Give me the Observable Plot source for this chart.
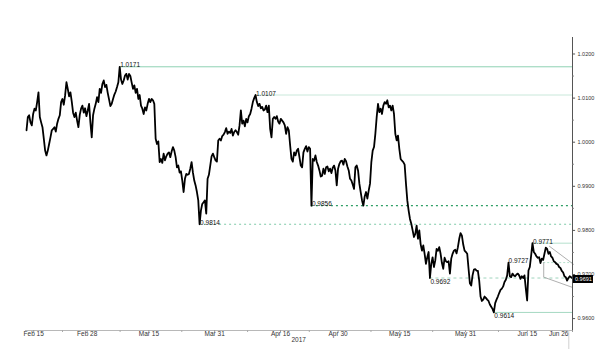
<!DOCTYPE html>
<html><head><meta charset="utf-8">
<script src="https://cdn.jsdelivr.net/npm/d3@7"></script>
<script src="https://cdn.jsdelivr.net/npm/@observablehq/plot@0.6"></script>
<style>body{margin:0;background:#fff}</style>
</head><body><div id="chart"></div>
<script>
// price series, sampled every ~7.8 hours from Feb 13 2017
const priceValues = [
1.0027,1.0057,1.0061,1.0045,1.0038,1.0064,1.0076,1.0072,1.0091,1.0113,
1.0057,1.0045,1.0034,1.0008,0.9981,0.9970,0.9981,0.9996,1.0011,1.0027,
1.0030,1.0034,1.0024,1.0042,1.0053,1.0061,1.0091,1.0098,1.0085,1.0106,
1.0136,1.0121,1.0104,1.0113,1.0092,1.0067,1.0057,1.0067,1.0049,1.0034,
1.0062,1.0076,1.0083,1.0067,1.0077,1.0059,1.0072,1.0087,1.0045,1.0011,
1.0061,1.0076,1.0087,1.0102,1.0091,1.0121,1.0112,1.0132,1.0140,1.0125,
1.0130,1.0112,1.0097,1.0082,1.0087,1.0098,1.0108,1.0115,1.0125,1.0136,
1.0171,1.0142,1.0132,1.0140,1.0151,1.0155,1.0142,1.0155,1.0150,1.0135,
1.0121,1.0129,1.0112,1.0121,1.0098,1.0107,1.0083,1.0076,1.0064,1.0079,
1.0072,1.0087,1.0098,1.0091,1.0098,1.0095,1.0087,1.0008,0.9996,1.0002,
0.9955,
0.9962,0.9953,0.9974,0.9959,0.9968,0.9974,0.9977,0.9966,0.9979,0.9989,
0.9981,0.9966,0.9943,0.9947,0.9931,0.9934,0.9913,0.9887,0.9917,0.9928,
0.9926,0.9928,0.9940,0.9955,0.9931,0.9913,0.9902,0.9887,0.9868,0.9814,
0.9845,0.9860,0.9864,0.9868,0.9838,0.9917,0.9926,0.9947,0.9968,0.9974,
0.9966,0.9959,0.9956,1.0004,1.0008,1.0004,1.0014,1.0017,1.0023,1.0032,
1.0019,1.0024,1.0021,1.0030,1.0015,1.0023,1.0027,1.0023,1.0017,1.0038,
1.0072,1.0042,1.0049,1.0036,1.0053,1.0045,1.0059,1.0064,1.0076,1.0091,
1.0100,1.0107,1.0091,1.0082,1.0087,1.0077,1.0080,1.0072,1.0074,1.0083,
1.0068,1.0083,1.0030,1.0011,1.0053,1.0057,1.0053,1.0059,1.0047,1.0042,
1.0053,1.0049,1.0045,1.0038,1.0019,1.0034,1.0027,0.9993,0.9962,0.9956,
0.9977,0.9970,0.9981,0.9985,0.9966,0.9947,0.9943,0.9977,0.9985,0.9991,
0.9979,0.9989,
0.9985,0.9856,0.9962,0.9958,0.9970,0.9955,0.9947,0.9936,0.9922,0.9924,
0.9940,0.9928,0.9943,0.9945,0.9934,0.9940,0.9930,0.9942,0.9947,0.9936,
0.9902,0.9940,0.9951,0.9957,0.9958,0.9949,0.9962,0.9957,0.9945,0.9936,
0.9917,0.9913,0.9904,0.9894,0.9943,0.9947,0.9936,0.9906,0.9887,0.9868,
0.9856,0.9877,0.9887,0.9872,0.9890,0.9906,0.9955,0.9981,0.9989,1.0019,
1.0057,1.0087,1.0068,1.0076,1.0064,1.0083,1.0091,1.0087,1.0095,1.0079,
1.0083,1.0072,1.0083,1.0064,1.0019,1.0004,1.0015,0.9985,0.9962,0.9958,
0.9955,0.9949,0.9906,0.9868,0.9845,0.9826,0.9815,0.9800,0.9785,0.9792,
0.9811,0.9781,0.9800,0.9769,0.9754,0.9766,0.9747,0.9724,0.9739,0.9751,
0.9692,0.9724,0.9739,0.9717,0.9732,0.9758,0.9754,
0.9762,0.9747,0.9726,0.9713,0.9738,0.9730,0.9728,0.9730,0.9702,0.9736,
0.9747,0.9754,0.9756,0.9748,0.9762,0.9781,0.9794,0.9788,0.9768,0.9754,
0.9751,0.9747,0.9713,0.9680,0.9675,0.9698,0.9711,0.9712,0.9709,0.9708,
0.9686,0.9650,0.9640,0.9643,0.9650,0.9647,0.9643,0.9640,0.9632,0.9627,
0.9622,0.9614,0.9635,0.9643,0.9650,0.9658,0.9665,0.9668,0.9673,0.9683,
0.9688,0.9698,0.9727,0.9696,0.9694,0.9702,0.9698,0.9696,0.9700,0.9702,
0.9698,0.9690,0.9696,0.9692,0.9698,0.9668,0.9641,0.9709,0.9717,0.9743,
0.9771,0.9751,0.9747,0.9741,0.9738,0.9739,0.9726,0.9736,0.9733,0.9747,
0.9761,0.9758,0.9747,0.9751,0.9741,0.9738,0.9730,0.9728,0.9724,0.9723,
0.9717,0.9715,0.9708,0.9705,0.9696,0.9694,0.9686,0.9692,0.9696,0.9694,
0.9691
];
const seriesStart = Date.UTC(2017, 1, 13, 5, 48);
const stepHours = 7.77;

// annotated levels
const levelValues = [1.0171, 1.0107, 0.9856, 0.9814, 0.9771, 0.9727, 0.9692, 0.9614];
const levelStartDates = ["2017-03-07T21:40Z","2017-04-09T22:10Z","2017-04-23T12:30Z","2017-03-27T08:00Z","2017-06-16T06:20Z","2017-06-19T00:00Z","2017-05-22T08:00Z","2017-06-06T21:00Z"];
const levelLabelDates = ["2017-03-07T21:40Z","2017-04-09T22:10Z","2017-04-23T12:30Z","2017-03-27T08:00Z","2017-06-16T06:20Z","2017-06-10T08:00Z","2017-05-22T08:00Z","2017-06-06T21:00Z"];
const levelBelow = [false, false, false, false, false, false, true, true];

// wedge drawing
const wedgeUpper = [["2017-06-20T09:30Z", 0.9764], ["2017-06-26T06:00Z", 0.9723]];
const wedgeLower = [["2017-06-19T00:00Z", 0.9727], ["2017-06-19T00:00Z", 0.9694], ["2017-06-25T22:00Z", 0.9671]];

// axes
const xTickDates = ["2017-02-15","2017-02-28","2017-03-15","2017-03-31","2017-04-16","2017-04-30","2017-05-15","2017-05-31","2017-06-15","2017-06-26"];
const xTickLabels = ["Feb 15","Feb 28","Mar 15","Mar 31","Apr 16","Apr 30","May 15","May 31","Jun 15","Jun 26"];
const xMinorDates = ["2017-02-22","2017-03-08","2017-03-23","2017-04-08","2017-04-23","2017-05-08","2017-05-23","2017-06-08","2017-06-21"];
const yTicks = [0.96, 0.97, 0.98, 0.99, 1.00, 1.01, 1.02];
const yMinorTicks = [0.965, 0.975, 0.985, 0.995, 1.005, 1.015];
const yearLabel = "2017";

// ---- build ----
const series = priceValues.map((v, i) => ({date: new Date(seriesStart + i * stepHours * 3600e3), value: v}));
const xStart = new Date("2017-02-13T00:00Z"), xEnd = new Date("2017-06-26T00:00Z");
const yTop = 1.023741, yBottom = 0.957301;
const DAY = 864e5;
const addDays = (d, n) => new Date(+d + n * DAY);
const lastValue = priceValues[priceValues.length - 1];

const levelStyle = [
  {stroke: "#8fd1b3", dash: null, w: 1},
  {stroke: "#c9e8da", dash: null, w: 1},
  {stroke: "#2f9e66", dash: "2,3", w: 1.2},
  {stroke: "#7fcaa9", dash: "2,3", w: 1.1},
  {stroke: "#b6e0cd", dash: null, w: 1},
  {stroke: "#b6e0cd", dash: "2,2", w: 1},
  {stroke: "#9fd4bd", dash: "3,3", w: 1},
  {stroke: "#a5d9c2", dash: null, w: 1}
];

const levels = levelValues.map((v, i) => ({
  value: v, start: new Date(levelStartDates[i]), labelAt: new Date(levelLabelDates[i]),
  below: levelBelow[i], ...levelStyle[i]
}));

const levelMarks = levels.map(l => Plot.ruleY([l.value], {
  x1: () => l.start, x2: () => xEnd, stroke: l.stroke, strokeWidth: l.w,
  strokeDasharray: l.dash
}));

const font = 6.5;
const chart = Plot.plot({
  width: 600, height: 349,
  marginLeft: 25, marginRight: 28, marginTop: 37, marginBottom: 19,
  style: {fontFamily: "'Liberation Sans', Arial, sans-serif", background: "#fff", color: "#222"},
  x: {type: "utc", domain: [xStart, xEnd], axis: null},
  y: {domain: [yBottom, yTop], axis: null},
  marks: [
    Plot.ruleY([yBottom], {x1: () => xStart, x2: () => xEnd, stroke: "#b8b8b8"}),
    Plot.ruleX([addDays(xEnd, -0.9)], {y1: () => yBottom, y2: () => 0.95299, stroke: "#d0d0d0"}),
    ...levelMarks,
    Plot.line(wedgeUpper, {x: d => new Date(d[0]), y: d => d[1], stroke: "#9a9a9a", strokeWidth: 0.8}),
    Plot.line(wedgeLower, {x: d => new Date(d[0]), y: d => d[1], stroke: "#9a9a9a", strokeWidth: 0.8}),
    Plot.line(series, {x: "date", y: "value", stroke: "#000", strokeWidth: 1.8, strokeLinejoin: "round"}),
    Plot.text(levels.filter(l => !l.below), {x: "labelAt", y: "value", text: d => d.value.toFixed(4),
      textAnchor: "start", lineAnchor: "bottom", dx: 0.5, dy: 0.5, fontSize: font, fill: "#111"}),
    Plot.text(levels.filter(l => l.below), {x: "labelAt", y: "value", text: d => d.value.toFixed(4),
      textAnchor: "start", lineAnchor: "top", dx: 0.5, dy: 1, fontSize: font, fill: "#111"}),
    // right axis
    Plot.ruleX([xEnd], {y1: () => yBottom, y2: () => yTop, stroke: "#555"}),
    Plot.ruleY(yTicks, {x1: () => xEnd, x2: () => addDays(xEnd, 0.75), stroke: "#555"}),
    Plot.ruleY(yMinorTicks, {x1: () => xEnd, x2: () => addDays(xEnd, 0.45), stroke: "#777"}),
    Plot.text(yTicks, {x: () => xEnd, y: d => d, text: d => d.toFixed(4), dx: 5, textAnchor: "start",
      fontSize: 5.5, fill: "#333"}),
    // bottom axis
    Plot.ruleX(xTickDates.map(d => new Date(d)), {y1: () => yBottom, y2: () => yBottom - 2 / 4410, stroke: "#999"}),
    Plot.ruleX(xMinorDates.map(d => new Date(d)), {y1: () => yBottom, y2: () => yBottom - 2 / 4410, stroke: "#aaa"}),
    Plot.text(xTickDates.slice(0, -1), {x: d => new Date(d), text: (d, i) => xTickLabels[i],
      frameAnchor: "bottom", lineAnchor: "top", dy: 1, fontSize: font, fill: "#333"}),
    Plot.text(xTickDates.slice(-1), {x: d => new Date(d), text: () => xTickLabels[xTickLabels.length - 1],
      frameAnchor: "bottom", lineAnchor: "top", dy: 1, dx: -4, textAnchor: "end", fontSize: font, fill: "#333"}),
    Plot.text([yearLabel], {x: () => new Date("2017-04-20T10:00Z"), text: d => d,
      frameAnchor: "bottom", lineAnchor: "top", dy: 7, fontSize: font, fill: "#333"}),
    // current price tag
    Plot.rect([lastValue], {x1: () => addDays(xEnd, 0.2), x2: () => addDays(xEnd, 5.1),
      y1: () => 0.96977, y2: () => 0.96796, fill: "#000"}),
    Plot.text([lastValue], {x: () => addDays(xEnd, 2.65), y: () => 0.96886, text: d => d.toFixed(4),
      fill: "#fff", fontSize: 5.5})
  ]
});
document.getElementById("chart").appendChild(chart);
</script>
</body></html>
